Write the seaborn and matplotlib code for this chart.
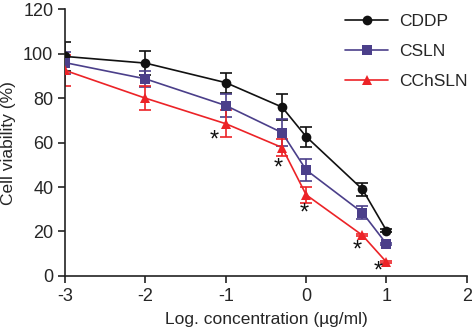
import numpy as np
import pandas as pd
import matplotlib
matplotlib.use("Agg")
import matplotlib.pyplot as plt
import seaborn as sns

# ---------------------------------------------------
# Daten
# ---------------------------------------------------
log_conc = [-3, -2, -1, -0.3, 0, 0.7, 1]

cddp = [98.8, 95.8, 87.0, 76.0, 62.7, 39.0, 20.4]
cddp_err = [6.5, 5.5, 4.5, 6.0, 4.5, 3.0, 0.5]

csln = [96.0, 88.7, 76.7, 64.5, 47.7, 28.5, 14.4]
csln_err = [5.0, 3.5, 5.0, 6.0, 5.0, 3.0, 0.5]

cchsln = [92.5, 80.0, 68.5, 57.8, 36.5, 18.3, 6.2]
cchsln_err = [7.0, 5.5, 6.0, 4.0, 3.5, 0.5, 0.5]

series_names = ["CDDP", "CSLN", "CChSLN"]

# Sternchen (Signifikanz)
star_x = [-1.14, -0.35, -0.03, 0.63, 0.9]
star_y = [61.0, 48.2, 28.2, 11.2, 2.0]

x_ticks = [-3, -2, -1, 0, 1, 2]
y_ticks = [0, 20, 40, 60, 80, 100, 120]

df = pd.DataFrame({
    "log_conc": log_conc * 3,
    "viability": cddp + csln + cchsln,
    "err": cddp_err + csln_err + cchsln_err,
    "group": sum([[n] * len(log_conc) for n in series_names], []),
})

colors = {"CDDP": "#111111", "CSLN": "#4b3f8a", "CChSLN": "#ec2327"}
markers = {"CDDP": "o", "CSLN": "s", "CChSLN": "^"}

sns.set_style("ticks")
plt.rcParams["font.family"] = ["Liberation Sans", "DejaVu Sans"]
plt.rcParams["axes.unicode_minus"] = False

fig = plt.figure(figsize=(4.72, 3.34), dpi=100)
ax = fig.add_axes([0.138, 0.174, 0.851, 0.798])

# Fehlerbalken
for name in series_names:
    sub = df[df["group"] == name]
    ax.errorbar(sub["log_conc"], sub["viability"], yerr=sub["err"],
                fmt="none", ecolor=colors[name], elinewidth=1.2,
                capsize=4, capthick=1.2, zorder=2)

sns.lineplot(data=df, x="log_conc", y="viability", hue="group", style="group",
             hue_order=series_names, style_order=series_names,
             palette=colors, markers=markers, dashes=False,
             markersize=7, markeredgewidth=0, linewidth=1.2,
             ax=ax, zorder=3)

for sx, sy in zip(star_x, star_y):
    ax.text(sx, sy, "*", ha="center", va="center", fontsize=17, color="#111111")

ax.set_xlim(-3, 2)
ax.set_ylim(0, 120)
ax.set_xticks(x_ticks)
ax.set_yticks(y_ticks)
ax.tick_params(axis="both", labelsize=13, length=5, width=1.2, color="#222222")
ax.set_xlabel("Log. concentration (µg/ml)", fontsize=12.5, labelpad=5)
ax.set_ylabel("Cell viability (%)", fontsize=12.5, labelpad=5)
for sp in ["left", "bottom"]:
    ax.spines[sp].set_linewidth(1.2)
    ax.spines[sp].set_color("#222222")
sns.despine(ax=ax)

leg = ax.legend(loc="upper right", bbox_to_anchor=(1.04, 1.04), frameon=False,
                fontsize=12.5, labelspacing=0.85, handlelength=2.5,
                handletextpad=0.6)

fig.savefig("out.png", dpi=100)
